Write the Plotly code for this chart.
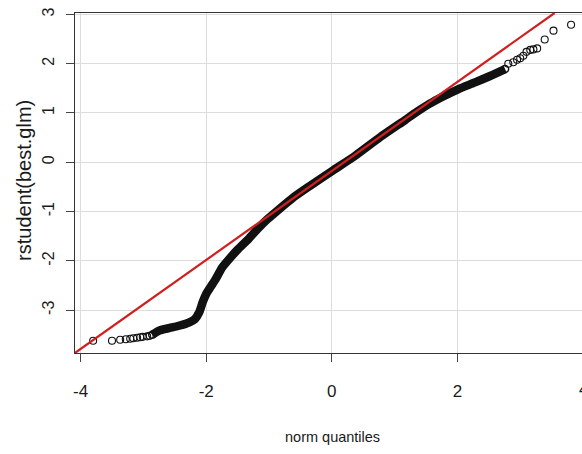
import plotly.graph_objects as go

# Normal quantiles vs studentized residuals of best.glm
# dense body of the distribution (sorted residuals against theoretical quantiles)
band_q = [-2.86, -2.74, -2.58, -2.42, -2.26, -2.18, -2.11, -2.06, -2.00, -1.92,
          -1.84, -1.75, -1.62, -1.49, -1.33, -1.18, -1.02, -0.82, -0.62, -0.35,
          0.00, 0.37, 0.77, 1.17, 1.35, 1.56, 1.78, 2.01, 2.28, 2.52, 2.76]
band_r = [-3.50, -3.41, -3.36, -3.31, -3.24, -3.18, -3.04, -2.85, -2.67, -2.51,
          -2.35, -2.14, -1.94, -1.76, -1.56, -1.35, -1.15, -0.93, -0.72, -0.48,
          -0.18, 0.13, 0.51, 0.86, 1.02, 1.19, 1.34, 1.48, 1.62, 1.75, 1.89]

# individual observations in the lower tail
tail_lo_q = [-3.80, -3.50, -3.37, -3.28, -3.21, -3.16, -3.10, -3.05, -3.01, -2.94, -2.90]
tail_lo_r = [-3.62, -3.62, -3.60, -3.59, -3.58, -3.57, -3.56, -3.55, -3.54, -3.53, -3.52]

# individual observations in the upper tail
tail_hi_q = [2.81, 2.89, 2.95, 3.00, 3.05, 3.10, 3.16, 3.21, 3.27, 3.39, 3.53, 3.81]
tail_hi_r = [2.00, 2.03, 2.08, 2.11, 2.16, 2.24, 2.28, 2.29, 2.31, 2.49, 2.67, 2.79]

# reference line (intercept, slope)
line_intercept = -0.175
line_slope = 0.903

x_ticks = [-4, -2, 0, 2, 4]
y_ticks = [-3, -2, -1, 0, 1, 2, 3]
x_range = [-4.089, 3.984]
y_range = [-3.868, 3.028]

FONT = "Liberation Sans, Arial, sans-serif"
INK = "#111111"
TEXT = "#1a1a1a"

fig = go.Figure()

# dense band of overlapping points
fig.add_trace(go.Scatter(
    x=band_q, y=band_r, mode="lines",
    line=dict(color=INK, width=8.5, shape="spline", smoothing=0.6),
    hoverinfo="skip", showlegend=False,
))

# open circles for the sparse tails
for qs, rs in [(tail_lo_q, tail_lo_r), (tail_hi_q, tail_hi_r)]:
    fig.add_trace(go.Scatter(
        x=qs, y=rs, mode="markers",
        marker=dict(symbol="circle-open", size=7, color=INK, line=dict(width=1.1)),
        showlegend=False,
    ))

# end caps of the band drawn as circles
fig.add_trace(go.Scatter(
    x=[band_q[0], band_q[-1]], y=[band_r[0], band_r[-1]], mode="markers",
    marker=dict(symbol="circle-open", size=7, color=INK, line=dict(width=1.5)),
    showlegend=False,
))

# red reference line across the plotting region
lx = [x_range[0], (y_range[1] - line_intercept) / line_slope]
ly = [line_intercept + line_slope * v for v in lx]
fig.add_trace(go.Scatter(
    x=lx, y=ly, mode="lines",
    line=dict(color="#d11f1f", width=2.2),
    showlegend=False,
))

fig.update_xaxes(
    range=x_range, tickvals=x_ticks, ticktext=[str(v) for v in x_ticks],
    ticks="outside", ticklen=8, tickwidth=1, tickcolor="#444",
    showgrid=True, gridcolor="#dcdcdc", gridwidth=1,
    showline=True, linecolor="#333", linewidth=1.2, mirror=True,
    zeroline=False, ticklabelstandoff=14,
    tickfont=dict(family=FONT, size=17, color=TEXT),
)
fig.update_yaxes(
    range=y_range, tickvals=y_ticks, ticktext=[str(v) for v in y_ticks],
    ticks="outside", ticklen=8, tickwidth=1, tickcolor="#444", tickangle=-90,
    showgrid=True, gridcolor="#dcdcdc", gridwidth=1,
    showline=True, linecolor="#333", linewidth=1.2,
    zeroline=False, ticklabelstandoff=6,
    tickfont=dict(family=FONT, size=16, color=TEXT),
)

# the last x tick label sits on the right edge of the page, past the axis range
edge_tick = x_ticks[-1]
edge_pos = (edge_tick - x_range[0]) / (x_range[1] - x_range[0])

fig.update_layout(
    width=582, height=454,
    margin=dict(l=75, r=0, t=13, b=101),
    plot_bgcolor="white", paper_bgcolor="white",
    annotations=[
        dict(text=str(edge_tick), xref="paper", yref="paper",
             x=edge_pos, y=-0.108, xanchor="center", yanchor="middle",
             showarrow=False, font=dict(family=FONT, size=17, color=TEXT)),
        dict(text="norm quantiles", xref="paper", yref="paper",
             x=0.507, y=-0.247, xanchor="center", yanchor="middle",
             showarrow=False, font=dict(family=FONT, size=14.5, color=TEXT)),
        dict(text="rstudent(best.glm)", xref="paper", yref="paper",
             x=-0.1006, y=0.509, xanchor="center", yanchor="middle", textangle=-90,
             showarrow=False, font=dict(family=FONT, size=20, color=TEXT)),
    ],
)

fig.write_html("out.html")
